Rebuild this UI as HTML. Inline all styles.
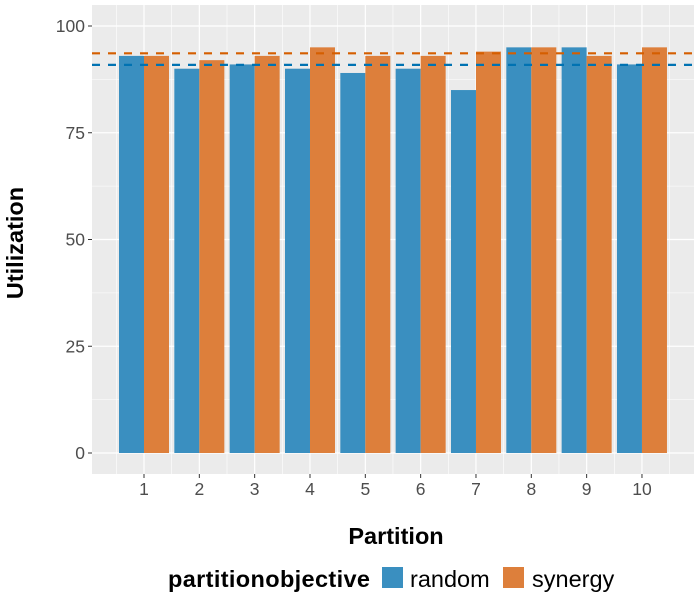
<!DOCTYPE html>
<html><head><meta charset="utf-8">
<style>
body{margin:0;background:#fff;}
svg{display:block;font-family:"Liberation Sans",Arial,sans-serif;}
</style></head>
<body>
<svg id="chart" width="700" height="600">
  <rect x="92" y="5" width="602" height="469" fill="#ebebeb"/>
  <g id="grid"></g>
  <g id="bars"></g>
  <g id="lines"></g>
  <g id="axes"></g>
  <text x="396" y="544" text-anchor="middle" font-size="23.5" font-weight="bold" fill="#000">Partition</text>
  <text transform="translate(23,243) rotate(-90)" text-anchor="middle" font-size="23.5" font-weight="bold" fill="#000">Utilization</text>
  <g>
    <text x="168" y="587" font-size="23.5" font-weight="bold" fill="#000" textLength="202">partitionobjective</text>
    <rect x="382" y="567" width="21" height="21" fill="#3a8fc0"/>
    <text x="410" y="587" font-size="23.5" fill="#000">random</text>
    <rect x="503" y="567" width="21" height="21" fill="#dd7f3b"/>
    <text x="532" y="587" font-size="23.5" fill="#000">synergy</text>
  </g>
</svg>
<script>
const categories = [1,2,3,4,5,6,7,8,9,10];
const randomValues = [93,90,91,90,89,90,85,95,95,91];
const synergyValues = [93,92,93,95,93,93,94,95,93,95];
const yTicks = [0,25,50,75,100];
const meanRandom = randomValues.reduce((a,b)=>a+b,0)/randomValues.length;
const meanSynergy = synergyValues.reduce((a,b)=>a+b,0)/synergyValues.length;

const NS="http://www.w3.org/2000/svg";
const xScale = c => 144 + (c-1)*55.33;
const yScale = v => 453 - v*4.27;
function mk(parent, tag, attrs){const e=document.createElementNS(NS,tag);for(const k in attrs)e.setAttribute(k,attrs[k]);document.getElementById(parent).appendChild(e);return e;}

for(let v=12.5; v<=100; v+=25){
  const g=mk('grid','line',{x1:92,x2:694,y1:yScale(v),y2:yScale(v),stroke:'#fff','stroke-width':0.6});
  
  
}
for(let i=0;i<=categories.length;i++){
  const x=xScale(categories[0]-0.5+i);
  const g=mk('grid','line',{x1:x,x2:x,y1:5,y2:474,stroke:'#fff','stroke-width':0.6});
  
  
}
yTicks.forEach(t=>{
  const g=mk('grid','line',{x1:92,x2:694,y1:yScale(t),y2:yScale(t),stroke:'#fff','stroke-width':1.2});
  
  
  const tk=mk('axes','line',{x1:88,x2:92,y1:yScale(t),y2:yScale(t),stroke:'#333','stroke-width':1});
  
  
  const lb=mk('axes','text',{x:85,y:yScale(t)+6,'text-anchor':'end','font-size':17.5,fill:'#4d4d4d'});
  lb.textContent=t;
  
  
});
categories.forEach((c,i)=>{
  const x=xScale(c);
  const g=mk('grid','line',{x1:x,x2:x,y1:5,y2:474,stroke:'#fff','stroke-width':1.2});
  
  
  const tk=mk('axes','line',{x1:x,x2:x,y1:474,y2:478,stroke:'#333','stroke-width':1});
  
  
  const lb=mk('axes','text',{x:x,y:495,'text-anchor':'middle','font-size':17.5,fill:'#4d4d4d'});
  lb.textContent=c;
  
  
  const bw=25;
  const r=mk('bars','rect',{x:x-bw,y:yScale(randomValues[i]),width:bw,height:yScale(0)-yScale(randomValues[i]),fill:'#3a8fc0'});
  
  
  const s=mk('bars','rect',{x:x,y:yScale(synergyValues[i]),width:bw,height:yScale(0)-yScale(synergyValues[i]),fill:'#dd7f3b'});
  
  
});
const l1=mk('lines','line',{x1:92,x2:694,y1:yScale(meanSynergy),y2:yScale(meanSynergy),stroke:'#D55E00','stroke-width':2.2,'stroke-dasharray':'8 8'});


const l2=mk('lines','line',{x1:92,x2:694,y1:yScale(meanRandom),y2:yScale(meanRandom),stroke:'#0072B2','stroke-width':2.2,'stroke-dasharray':'8 8'});


</script>
</body></html>
